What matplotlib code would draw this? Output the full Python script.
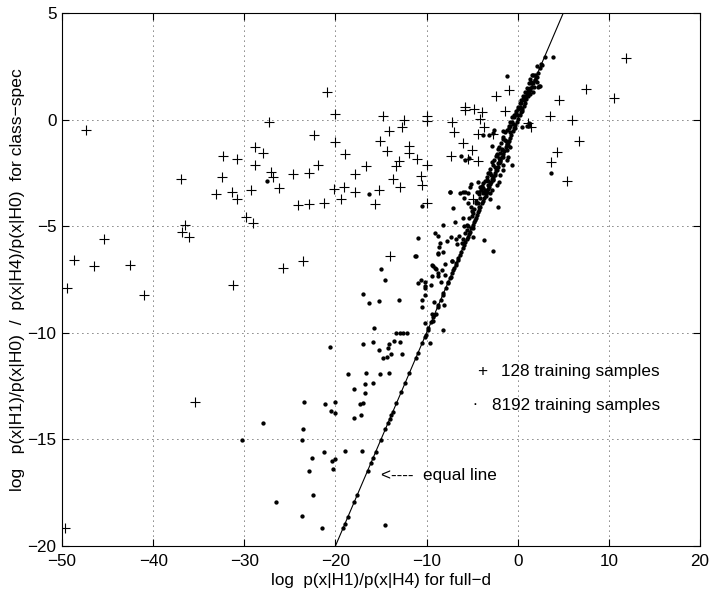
import matplotlib
matplotlib.use("Agg")
import matplotlib.pyplot as plt

plt.rcParams['font.family'] = ['Liberation Sans', 'DejaVu Sans']

# 128 training samples (plus markers)
x128 = [-47.4, -36.9, -32.3, -32.4, -33.1, -36.5, -36.8, -36.1, -45.4, -48.65, -46.5, -42.5,
        -49.4, -41.0, -31.2, -35.4, -49.7,
        -20.9, -20.1, -14.8, -27.3, -22.3, -20.0, -28.8, -27.9, -18.9, -15.1, -30.8, -28.8,
        -21.9, -16.6, -27.1, -26.85, -24.7, -22.9, -17.9, -26.2, -29.3, -31.35, -20.2, -19.1,
        -17.9, -15.25, -30.8, -19.35, -24.1, -22.9, -21.3, -15.7, -29.8, -29.0, -23.6, -25.7,
        -1.0, -2.4, -5.8, -4.76, -3.9, -5.8, -1.43, -12.5, -9.9, -10.0, -7.2, -4.1, 1.17, 1.46,
        -14.15, -12.7, -7.0, -3.66, -4.4, -2.75, -11.9, -14.3, -11.9, -11.0, -6.0, -5.0, -7.35,
        -5.45, -4.4, -13.0, -13.3, -10.0, -13.65, -10.6, -12.9, -10.5, -9.9, -14.0, -4.87,
        3.54, 6.0, 4.5, 7.45, 10.6, 11.9, 6.7, 4.27, 3.7, 5.37]
y128 = [-0.5, -2.8, -1.7, -2.7, -3.5, -4.94, -5.26, -5.5, -5.6, -6.57, -6.87, -6.83,
        -7.9, -8.24, -7.77, -13.26, -19.17,
        1.31, 0.26, 0.15, -0.13, -0.72, -1.05, -1.27, -1.58, -1.6, -1.02, -1.83, -2.14,
        -2.14, -2.18, -2.47, -2.69, -2.54, -2.49, -2.55, -3.19, -3.3, -3.4, -3.26, -3.18,
        -3.38, -3.32, -3.71, -3.71, -3.99, -3.96, -3.93, -3.94, -4.55, -4.84, -6.65, -6.96,
        1.4, 1.12, 0.61, 0.51, 0.36, 0.44, 0.4, 0.0, 0.15, -0.08, -0.1, 0.04, -0.17, -0.33,
        -0.52, -0.35, -0.6, -0.36, -0.66, -0.68, -1.25, -1.47, -1.58, -1.83, -1.11, -1.41, -1.71,
        -1.85, -1.93, -1.93, -2.19, -2.13, -2.77, -2.65, -3.15, -3.08, -3.93, -6.38, -3.72,
        0.17, -0.02, 0.92, 1.44, 1.0, 2.9, -0.99, -1.5, -1.97, -2.9]

# 8192 training samples (dots): points lying on the equal line
x8192_on = [-19.14, -18.98, -18.62, -17.95, -17.6, -16.47, -16.12, -15.89, -15.58, -15.03,
            -14.53, -14.25, -14.04, -13.86, -13.73, -13.31, -12.76, -12.37, -11.9, -11.2,
            -10.96, -10.49, -10.18, -10.1, -9.87, -9.79, -9.48, -9.24, -9.17, -8.78, -8.7,
            -8.46, -8.23, -8.15, -7.91, -7.68, -7.6, -7.44, -7.37, -7.21, -7.05, -6.97,
            -6.82, -6.74, -6.59, -6.5, -6.35, -6.2, -6.04, -5.9, -5.73, -5.6, -5.49, -5.35,
            -5.26, -5.1, -4.94, -4.8, -4.71, -4.6, -4.47, -4.35, -4.24, -4.1, -3.93, -3.8,
            -3.66, -3.5, -3.38, -3.25, -3.15, -3.0, -2.91, -2.8, -2.68, -2.5, -2.35, -2.2,
            -2.05, -1.9, -1.75, -1.6, -1.45, -1.3, -1.15, -1.0, -0.85, -0.7, -0.55, -0.4,
            -0.25, -0.1, 0.05, 0.2, 0.35, 0.5, 0.65, 0.8, 0.95, 1.1, 1.25, 1.4, 1.55, 1.7,
            1.85, 2.0, 2.2, 2.4, 2.6]
y8192_on = x8192_on

# dots off the line
x8192_off = [-23.4, -28.0, -23.55, -30.3, -23.7, -22.6, -22.9, -22.5, -26.5, -23.7, -21.5,
             -27.5, -16.3, -15.0, -14.6, 3.7, 3.0, 3.84, 2.7, 2.45, -1.2, 2.09, 2.27, 1.27,
             -11.24, -8.78, -9.3, -9.0, -8.78, -9.37, -7.98, -7.2, -8.34, -10.98, -10.6,
             -10.2, -10.2, -10.2, -8.38, -17.0, -16.35, -15.25, -13.06, -10.2, -10.5, -10.5,
             -9.15, -8.1, -9.44, -9.0, -10.2, -9.26, -15.73, -13.35, -12.9, -12.55, -12.2,
             -8.23, -20.6, -17.0, -15.9, -15.2, -14.1, -13.54, -12.9, -14.27, -13.94, -14.75,
             -14.37, -12.66, -9.62, -18.6, -16.6, -15.1, -14.1, -15.88, -16.8, -17.93, -16.75,
             -17.27, -16.94, -21.14, -20.05, -20.5, -20.1, -17.2, -17.93,
             -21.3, -19.0, -17.1, -20.4, -20.0, -20.3, -14.56,
             -7.4, -5.97, -5.12, -4.32, -5.89, -5.42, -5.16, -4.25, -7.13, -10.53, -2.13,
             -3.04, -6.04, -6.88, -8.16, -5.53, -4.87, -5.9, -9.07, -8.7, -7.32, -6.44, -6.8,
             -6.14, -4.94, -3.66, -7.8, -8.53, -6.7, -8.6, -8.16, -8.78, -10.97, -11.2, -2.75,
             -7.24, -9.44, -9.07, -8.78, -9.56, -7.98,
             -1.58, -1.4, -1.03, -1.21, -0.85, -1.21, -1.76, -1.94, -2.31, -1.58, -1.03,
             -1.94, -1.21, -2.13, -1.58, -0.66, -2.75, -2.31, -1.58, -3.04, -2.49, -1.94,
             -3.41, -2.68, -2.02, -3.77, -3.22, -2.31, -4.14, -3.59, -2.86, -4.5, -3.77,
             -3.04, -5.42, -5.24, -5.78, -6.33, -7.43, -2.57, -3.77, -3.2, -2.68, -1.65,
             -2.86, -6.22, -5.3, -5.78, 0.44, 0.98, 1.24, 1.65, 1.9, 2.15, 2.37, 1.83, 1.35,
             1.7, -0.2, -0.6, -1.0, 0.2, 0.6, 1.0, 1.5, -0.4, -0.8, 0.0, 0.4, 0.8, 1.2,
             -2.3, -3.3, -4.3, -5.0, -4.6, -3.9,
             -6.0, -5.8, -5.5, -5.3, -5.0, -4.8, -4.6, -4.4, -4.2, -4.0, -3.8, -3.6, -3.4,
             -3.2, -3.0, -2.8, -2.6, -2.4, -2.2, -2.0, -1.8, -1.6, -1.4, -1.2, -1.0, -0.8,
             -0.6, -0.4, -0.2, 0.0, 0.2, 0.4, 0.6, 0.8, 1.0, 1.2, 1.4, 1.6, -5.6, -4.9, -4.1,
             -3.7, -3.3, -2.9, -2.5, -2.1, -1.7, -1.3, -0.9, -0.5, -0.1, 0.3, 0.7, 1.1, 1.5,
             1.9, -3.5, -2.7, -1.9, -1.1, -0.3, 0.5, 1.3, 2.1]
y8192_off = [-13.25, -14.23, -14.53, -15.03, -15.01, -15.87, -16.48, -17.6, -17.95, -18.6, -19.17,
             -2.9, -3.49, -7.0, -7.54, -2.52, 2.92, 2.92, 2.55, 1.56, 2.06, 2.53, 1.53, -0.31,
             -6.4, -6.27, -6.85, -7.0, -7.32, -7.35, -6.75, -6.62, -7.05, -7.65, -7.52,
             -7.6, -7.79, -7.91, -7.6, -8.2, -8.62, -8.5, -8.48, -8.23, -8.46, -8.77,
             -8.54, -8.7, -9.13, -9.13, -9.53, -9.43, -9.76, -9.99, -9.99, -9.99, -9.99,
             -9.88, -10.65, -10.53, -10.45, -10.82, -10.54, -10.4, -10.42, -10.7, -11.01, -11.2,
             -11.15, -10.99, -10.49, -11.93, -11.87, -11.95, -11.9, -12.34, -12.39, -12.62, -12.81,
             -13.34, -13.3, -13.34, -13.26, -13.68, -13.78, -13.86, -14.0,
             -15.59, -15.54, -15.54, -16.03, -15.9, -16.4, -19.0,
             -3.38, -3.41, -3.04, -2.94, -3.69, -3.93, -4.08, -4.08, -4.16, -4.04, -4.08,
             -3.72, -4.6, -4.82, -4.94, -4.94, -5.1, -4.97, -5.33, -5.45, -5.51, -5.46, -5.62,
             -5.77, -5.51, -5.65, -5.68, -5.77, -5.84, -5.99, -6.2, -6.29, -5.57, -6.4, -6.16,
             -6.63, -6.82, -6.98, -7.18, -7.77, -7.29,
             -0.8, -0.96, -1.03, -1.19, -1.27, -1.43, -1.43, -1.58, -1.66, -1.74, -1.74,
             -1.89, -1.89, -2.05, -2.13, -2.13, -2.13, -2.36, -2.36, -2.52, -2.6, -2.6,
             -2.83, -2.83, -2.91, -2.99, -3.07, -3.07, -3.15, -3.3, -3.3, -3.38, -3.46,
             -3.46, -3.46, -3.15, -3.38, -3.46, -3.38, -0.49, -0.72, -0.72, -0.63, -0.55,
             -1.25, -1.72, -1.8, -1.9, -0.33, -0.3, -0.17, 2.08, 1.86, 1.75, 1.58, 1.54, 1.47,
             1.31, 0.3, -0.1, -0.4, 0.6, 0.95, 1.25, 1.75, 0.1, -0.3, 0.5, 0.8, 1.1, 1.45,
             -1.6, -2.5, -3.4, -4.3, -3.9, -3.1,
             -5.6, -5.3, -5.0, -4.6, -4.5, -4.2, -3.8, -3.9, -3.5, -3.3, -3.2, -2.9, -2.7,
             -2.5, -2.3, -2.0, -1.9, -1.7, -1.4, -1.3, -1.1, -0.9, -0.6, -0.5, -0.3, -0.1,
             0.1, 0.2, 0.4, 0.6, 0.8, 0.9, 1.1, 1.3, 1.5, 1.7, 1.9, 2.1, -5.2, -4.4, -3.7,
             -3.4, -2.9, -2.6, -2.2, -1.8, -1.4, -1.0, -0.6, -0.2, 0.2, 0.55, 0.9, 1.35, 1.7,
             2.1, -3.6, -2.8, -2.0, -1.2, -0.4, 0.4, 1.2, 2.0]

eq_line = [-20, 5]

fig = plt.figure(figsize=(7.11, 5.96), dpi=100)
ax = fig.add_axes([62 / 711, 50 / 596, 638 / 711, 533 / 596])

ax.plot(x128, y128, '+', color='black', markersize=7, markeredgewidth=0.8)
ax.plot(x8192_on, y8192_on, '.', color='black', markersize=4.2)
ax.plot(x8192_off, y8192_off, '.', color='black', markersize=4.2)
ax.plot(eq_line, eq_line, '-', color='black', linewidth=0.8)

# legend-like annotations
ax.text(-3.95, -11.82, '+', fontsize=12.3, ha='center', va='center')
ax.text(-1.85, -11.82, '128 training samples', fontsize=12.3, va='center')
ax.text(-4.76, -13.55, '.', fontsize=12.3, ha='center', va='bottom')
ax.text(-2.85, -13.4, '8192 training samples', fontsize=12.3, va='center')
ax.text(-14.95, -16.67, '<----  equal line', fontsize=12.3, va='center')

ax.set_xlim(-50, 20)
ax.set_ylim(-20, 5)
ax.set_xticks(range(-50, 21, 10))
ax.set_yticks(range(-20, 6, 5))
ax.tick_params(direction='in', length=5, top=True, right=True, labelsize=12.3)
ax.tick_params(axis='x', pad=6)
ax.tick_params(axis='y', pad=4)
ax.grid(True, color='black', linestyle=(0, (1, 5)), linewidth=0.6)
for s in ax.spines.values():
    s.set_linewidth(0.8)

ax.set_xlabel('log  p(x|H1)/p(x|H4) for full\u2212d', fontsize=12.3, labelpad=3)
ax.set_ylabel('log   p(x|H1)/p(x|H0)  /  p(x|H4)/p(x|H0)  for class\u2212spec',
              fontsize=12.6, labelpad=2)

fig.savefig('out.png', dpi=100)
